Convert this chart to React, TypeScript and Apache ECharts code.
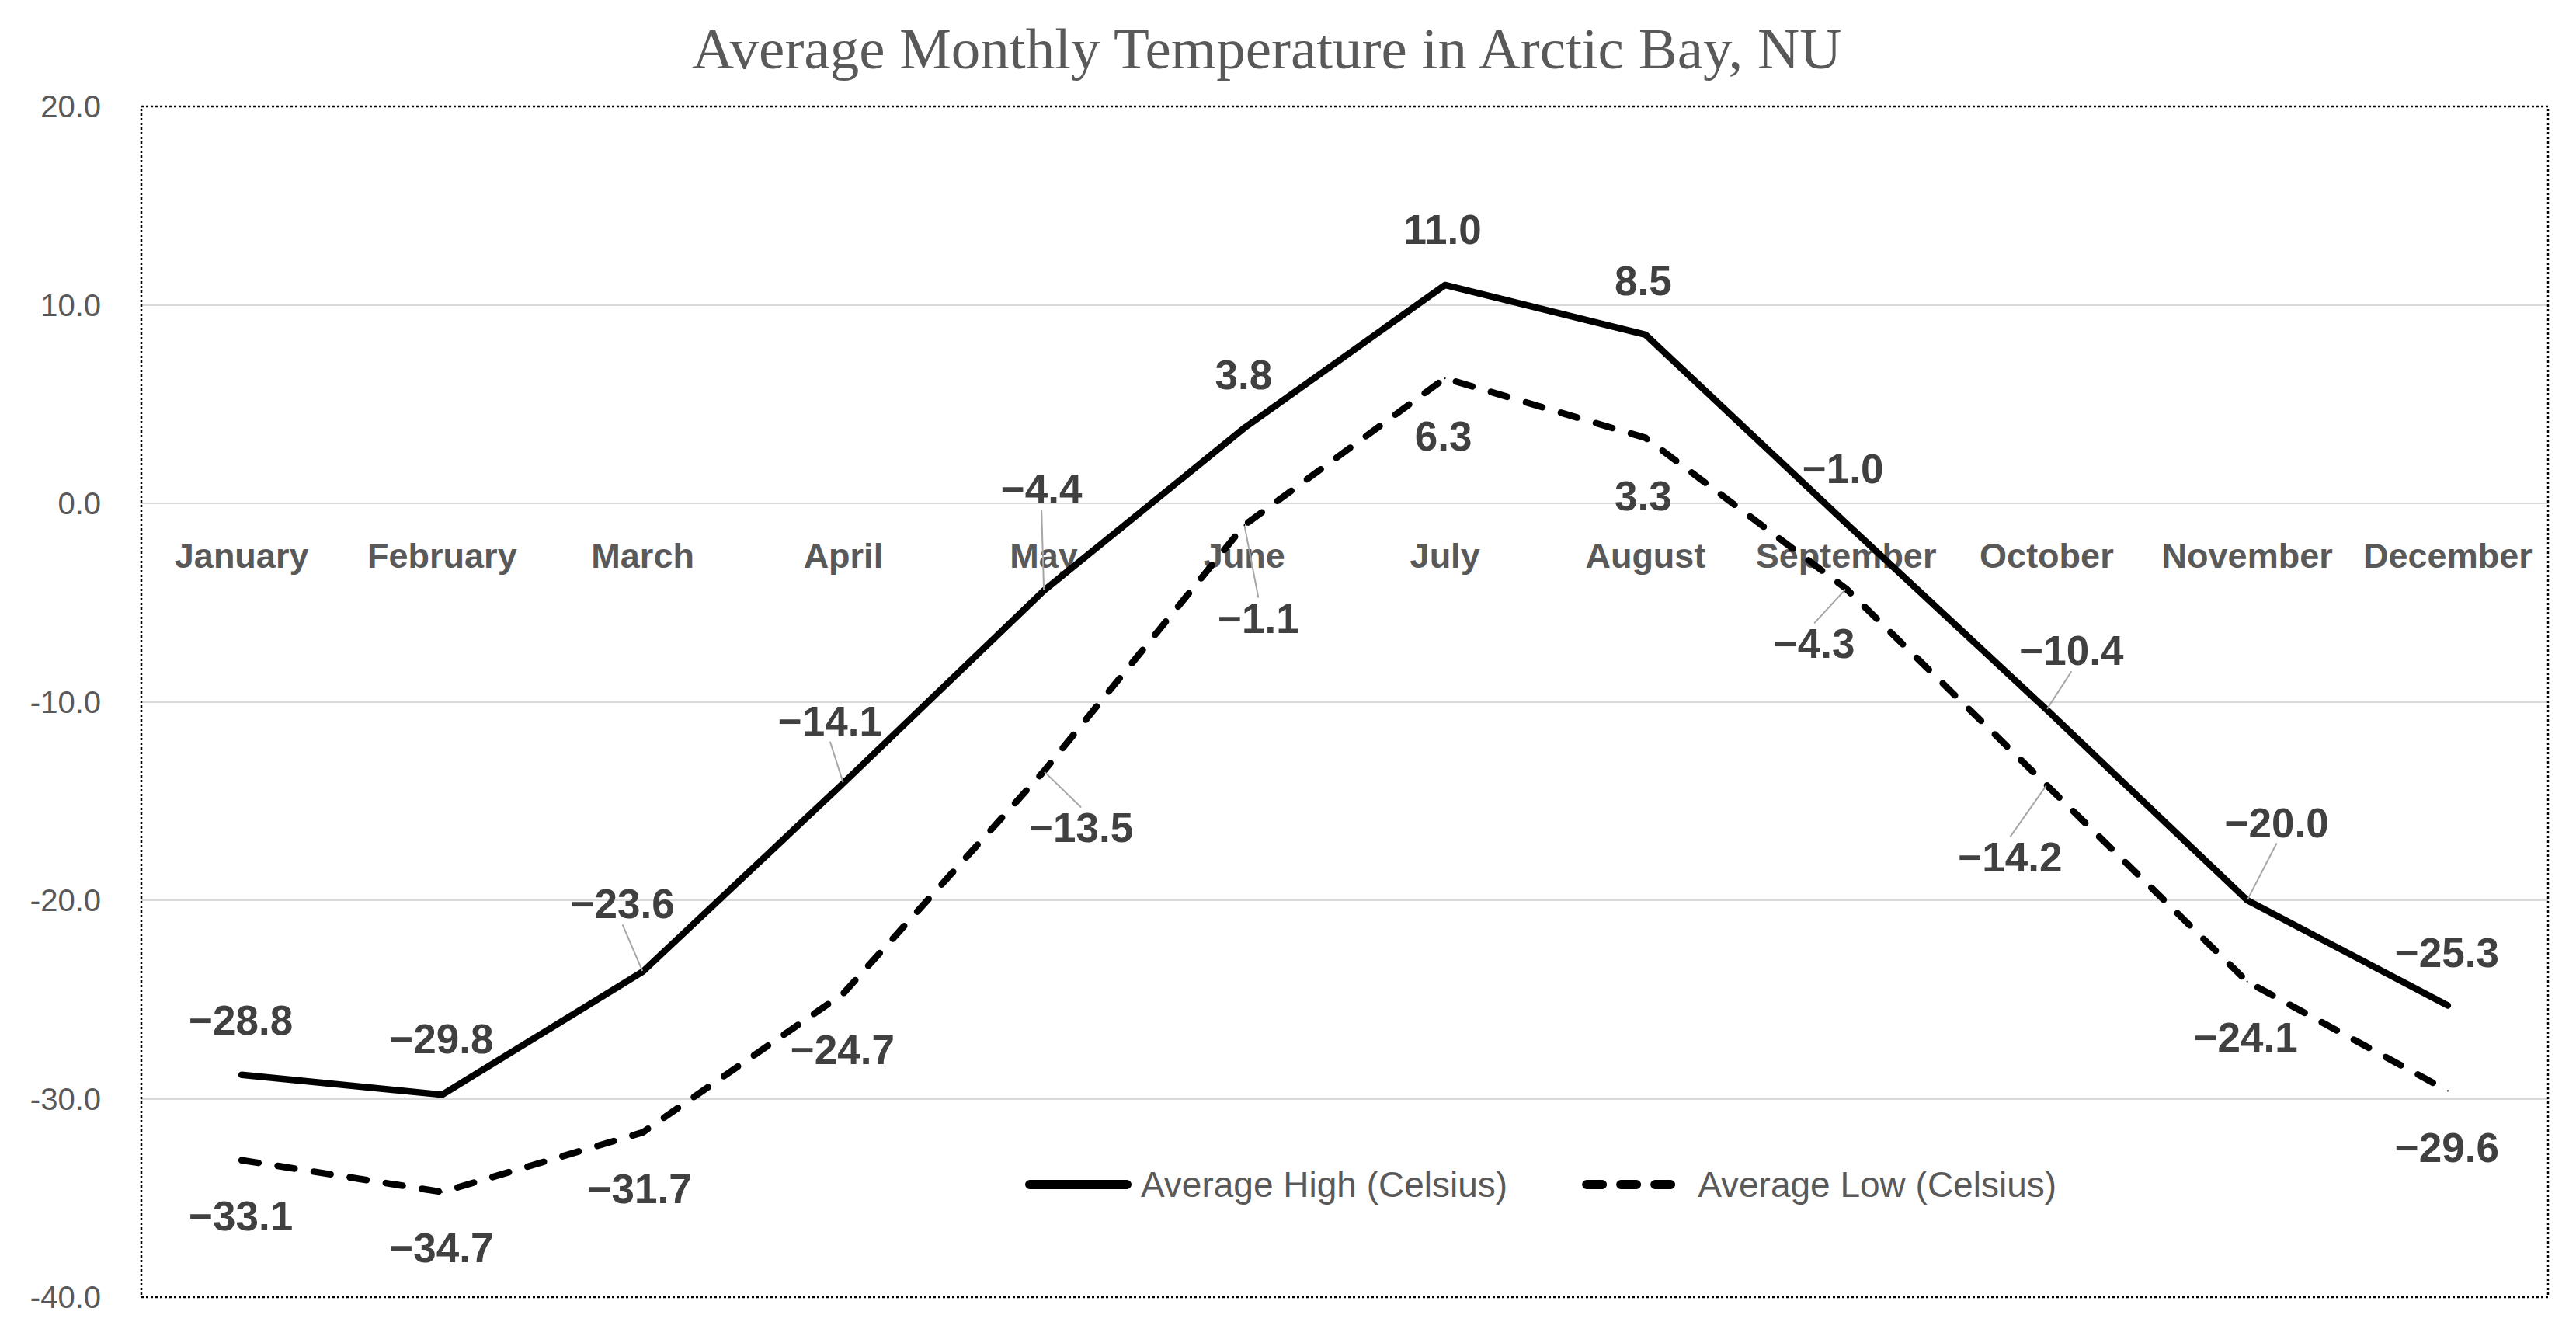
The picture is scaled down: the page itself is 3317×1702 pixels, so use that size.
import React, { useEffect, useRef } from "react";
import * as echarts from "echarts";

const MONTHS = [
  "January", "February", "March", "April", "May", "June",
  "July", "August", "September", "October", "November", "December",
];
const HIGH_SERIES_NAME = "Average High (Celsius)";
const LOW_SERIES_NAME = "Average Low (Celsius)";
const HIGH = [-28.8, -29.8, -23.6, -14.1, -4.4, 3.8, 11.0, 8.5, -1.0, -10.4, -20.0, -25.3];
const LOW = [-33.1, -34.7, -31.7, -24.7, -13.5, -1.1, 6.3, 3.3, -4.3, -14.2, -24.1, -29.6];
const Y_MIN = -40;
const Y_MAX = 20;
const Y_INTERVAL = 10;
const TITLE = "Average Monthly Temperature in Arctic Bay, NU";

// label placement (style): offset of each label centre from its point, in px
const HIGH_LABEL_OFFSETS = [
  [-1, -70], [-1, -72], [-26, -87], [-17, -80], [-3, -131], [-1, -68],
  [-3, -71], [-3, -69], [-4, -70], [32, -76], [38, -100], [-1, -68],
];
const LOW_LABEL_OFFSETS = [
  [-1, 72], [-1, 72], [-4, 73], [-1, 72], [48, 73], [18, 120],
  [-2, 74], [-3, 75], [-41, 71], [-47, 93], [-2, 72], [-1, 73],
];
const HIGH_LEADER = [false, false, true, true, true, false, false, false, false, true, true, false];
const LOW_LEADER = [false, false, false, false, true, true, false, false, true, true, false, false];

const W = 3317;
const H = 1702;
const GRID = { left: 182, top: 137, right: 36, bottom: 32 };
const PLOT_H = H - GRID.top - GRID.bottom;
const PLOT_W = W - GRID.left - GRID.right;
// category axis sits at the value 0 of the value axis
const X_AXIS_OFFSET = -PLOT_H * ((0 - Y_MIN) / (Y_MAX - Y_MIN));

const LABEL_FONT = "'Liberation Sans', Arial, sans-serif";
const LOW_DASH = [22, 25];

function fmtLabel(v: number): string {
  return (v < 0 ? "\u2212" : "") + Math.abs(v).toFixed(1);
}

export default function App() {
  const ref = useRef<HTMLDivElement>(null);

  useEffect(() => {
    if (!ref.current) return;
    const chart = echarts.init(ref.current, undefined, { renderer: "svg" });

    const mkData = (vals: number[], leaders: boolean[]) =>
      vals.map((v, i) => ({ value: v, labelLine: { show: leaders[i] } }));

    const labelCommon = {
      show: true,
      position: "inside",
      formatter: (p: any) => fmtLabel(p.value),
      fontFamily: LABEL_FONT,
      fontSize: 53,
      fontWeight: "bold",
      color: "#404040",
      lineHeight: 53,
    };

    const option: any = {
      animation: false,
      backgroundColor: "#ffffff",
      title: {
        text: TITLE,
        left: 886,
        top: 20,
        textStyle: {
          fontFamily: "'Liberation Serif', 'Times New Roman', serif",
          fontSize: 75,
          lineHeight: 75,
          fontWeight: "normal",
          color: "#595959",
        },
      },
      legend: {
        left: 1315,
        top: 1497,
        itemWidth: 125,
        itemHeight: 20,
        itemGap: 96,
        itemStyle: { opacity: 0 },
        textStyle: {
          fontFamily: LABEL_FONT,
          fontSize: 46,
          color: "#595959",
          padding: [0, 0, 0, 13],
        },
        data: [
          {
            name: HIGH_SERIES_NAME,
            lineStyle: { width: 12, type: "solid", cap: "round" },
          },
          {
            name: LOW_SERIES_NAME,
            lineStyle: { width: 12, type: [20, 24], cap: "round" },
          },
        ],
      },
      grid: { ...GRID, containLabel: false, outerBoundsMode: "none" },
      xAxis: {
        type: "category",
        data: MONTHS,
        boundaryGap: true,
        offset: X_AXIS_OFFSET,
        axisTick: { show: false },
        axisLine: { show: true, onZero: false, lineStyle: { color: "#d9d9d9", width: 2 } },
        axisLabel: {
          interval: 0,
          margin: 45,
          fontFamily: LABEL_FONT,
          fontSize: 45,
          fontWeight: "bold",
          color: "#595959",
          lineHeight: 45,
        },
        splitLine: { show: false },
      },
      yAxis: {
        type: "value",
        min: Y_MIN,
        max: Y_MAX,
        interval: Y_INTERVAL,
        axisLine: { show: false },
        axisTick: { show: false },
        axisLabel: {
          margin: 52,
          fontFamily: LABEL_FONT,
          fontSize: 40,
          color: "#595959",
          formatter: (v: number) => v.toFixed(1),
        },
        splitLine: {
          show: true,
          showMinLine: false,
          showMaxLine: false,
          lineStyle: { color: "#d9d9d9", width: 2 },
        },
      },
      graphic: [
        {
          type: "rect",
          silent: true,
          z: 1,
          shape: { x: GRID.left, y: GRID.top, width: PLOT_W, height: PLOT_H },
          style: { fill: "none", stroke: "#000000", lineWidth: 2.5, lineDash: [3, 3] },
        },
      ],
      series: [
        {
          name: HIGH_SERIES_NAME,
          type: "line",
          data: mkData(HIGH, HIGH_LEADER),
          symbol: "circle",
          symbolSize: 2,
          showSymbol: true,
          itemStyle: { color: "#000000" },
          lineStyle: { color: "#000000", width: 8.5, type: "solid", cap: "round", join: "round" },
          label: labelCommon,
          labelLine: { show: false, lineStyle: { color: "#a6a6a6", width: 2 } },
          labelLayout: (p: any) => ({
            dx: HIGH_LABEL_OFFSETS[p.dataIndex][0],
            dy: HIGH_LABEL_OFFSETS[p.dataIndex][1],
          }),
          z: 3,
        },
        {
          name: LOW_SERIES_NAME,
          type: "line",
          data: mkData(LOW, LOW_LEADER),
          symbol: "circle",
          symbolSize: 2,
          showSymbol: true,
          itemStyle: { color: "#000000" },
          lineStyle: { color: "#000000", width: 8.5, type: LOW_DASH, cap: "round", join: "round" },
          label: labelCommon,
          labelLine: { show: false, lineStyle: { color: "#a6a6a6", width: 2 } },
          labelLayout: (p: any) => ({
            dx: LOW_LABEL_OFFSETS[p.dataIndex][0],
            dy: LOW_LABEL_OFFSETS[p.dataIndex][1],
          }),
          z: 3,
        },
      ],
    };

    chart.setOption(option);
    return () => {
      chart.dispose();
    };
  }, []);

  return (
    <div
      ref={ref}
      style={{
        position: "fixed",
        left: 0,
        top: 0,
        width: W + "px",
        height: H + "px",
        background: "#ffffff",
      }}
    />
  );
}
